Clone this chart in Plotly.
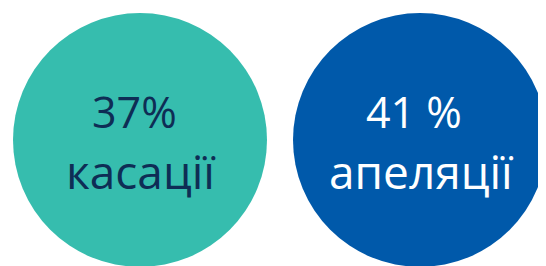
import plotly.graph_objects as go

categories = ["касації", "апеляції"]
percent_labels = ["37%", "41 %"]
values = [37, 41]
x_pos = [0, 1]

circle_colors = ["#36BDAE", "#0059AA"]
text_colors = ["#0E2D55", "#FFFFFF"]

fig = go.Figure()
fig.add_trace(go.Scatter(
    x=x_pos, y=[0, 0], mode="markers",
    marker=dict(size=254, color=circle_colors, line=dict(width=0)),
    hoverinfo="skip", showlegend=False,
))

for xi, pl, cat, tc in zip(x_pos, percent_labels, categories, text_colors):
    fig.add_annotation(x=xi, y=0, xref="x", yref="y", text=pl, showarrow=False,
                       yshift=29, xshift=-6,
                       font=dict(family="Open Sans", size=43, color=tc))
    fig.add_annotation(x=xi, y=0, xref="x", yref="y", text=cat, showarrow=False,
                       yshift=-31, xshift=1,
                       font=dict(family="Open Sans", size=46, color=tc))

fig.update_layout(
    width=546, height=266,
    margin=dict(l=0, r=0, t=0, b=0),
    paper_bgcolor="white", plot_bgcolor="white",
    xaxis=dict(range=[-132 / 280, 414 / 280], visible=False, fixedrange=True),
    yaxis=dict(range=[-134 / 132, 1], visible=False, fixedrange=True),
)
fig.write_html("out.html")
